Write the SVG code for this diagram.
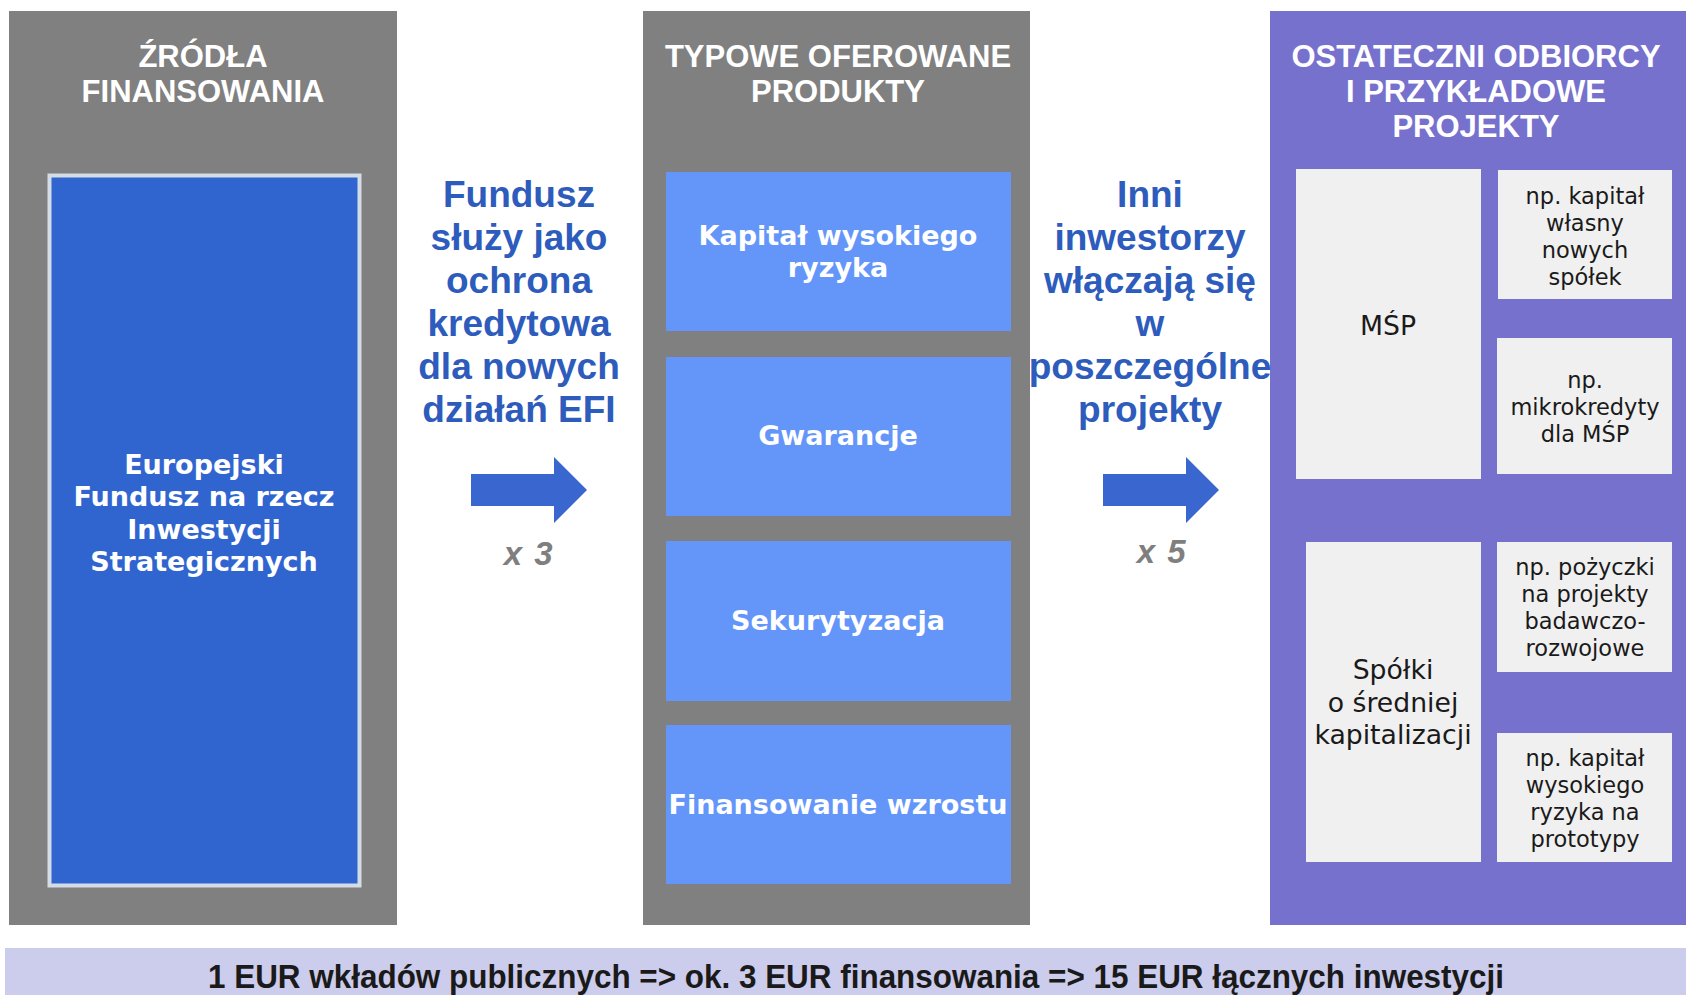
<svg xmlns="http://www.w3.org/2000/svg" width="1686" height="995" viewBox="0 0 1686 995">
<style>
.panel{fill:#808080}
.panelR{fill:#7671cd}
.hdr{font-family:"Liberation Sans",Arial,sans-serif;font-weight:bold;font-size:31px;fill:#ffffff;text-anchor:middle}
.prod{fill:#6496fa}
.ptxt{font-family:"DejaVu Sans",Verdana,sans-serif;font-weight:bold;font-size:27px;fill:#ffffff;text-anchor:middle}
.blue{font-family:"Liberation Sans",Arial,sans-serif;font-weight:bold;font-size:37px;fill:#2d5cbc;text-anchor:middle}
.mult{font-family:"Liberation Sans",Arial,sans-serif;font-weight:bold;font-style:italic;font-size:33px;letter-spacing:1.5px;fill:#7f7f7f;text-anchor:middle}
.lbox{fill:#f0f0f0}
.ltxt{font-family:"DejaVu Sans",Verdana,sans-serif;font-size:22.5px;fill:#1a1a1a;text-anchor:middle}
.ltxtB{font-family:"DejaVu Sans",Verdana,sans-serif;font-size:26.7px;fill:#1a1a1a;text-anchor:middle}
.arrow{fill:#3a67cf}
</style>
<rect width="1686" height="995" fill="#ffffff"/>

<g id="panel-sources">
<rect class="panel" x="9" y="11" width="388" height="914"/>
<text class="hdr" x="203" y="67">ŹRÓDŁA</text>
<text class="hdr" x="203" y="102">FINANSOWANIA</text>
</g>
<g id="node-efsi">
<rect x="49.5" y="175.5" width="310" height="710" fill="#3065d0" stroke="#d4dce6" stroke-width="4"/>
<text class="ptxt" x="204" y="474">Europejski</text>
<text class="ptxt" x="204" y="506">Fundusz na rzecz</text>
<text class="ptxt" x="204" y="539">Inwestycji</text>
<text class="ptxt" x="204" y="571">Strategicznych</text>
</g>

<g id="panel-products">
<rect class="panel" x="643" y="11" width="387" height="914"/>
<text class="hdr" x="838" y="67">TYPOWE OFEROWANE</text>
<text class="hdr" x="838" y="102">PRODUKTY</text>
</g>
<g id="node-kapital">
<rect class="prod" x="666" y="172" width="345" height="159"/>
<text class="ptxt" x="838" y="245">Kapitał wysokiego</text>
<text class="ptxt" x="838" y="277">ryzyka</text>
</g>
<g id="node-gwarancje">
<rect class="prod" x="666" y="357" width="345" height="159"/>
<text class="ptxt" x="838" y="445">Gwarancje</text>
</g>
<g id="node-sekurytyzacja">
<rect class="prod" x="666" y="541" width="345" height="160"/>
<text class="ptxt" x="838" y="630">Sekurytyzacja</text>
</g>
<g id="node-wzrost">
<rect class="prod" x="666" y="725" width="345" height="159"/>
<text class="ptxt" x="838" y="814">Finansowanie wzrostu</text>
</g>

<g id="panel-recipients">
<rect class="panelR" x="1270" y="11" width="416" height="914"/>
<text class="hdr" x="1476" y="67">OSTATECZNI ODBIORCY</text>
<text class="hdr" x="1476" y="102">I PRZYKŁADOWE</text>
<text class="hdr" x="1476" y="137">PROJEKTY</text>
</g>
<g id="node-msp">
<rect class="lbox" x="1296" y="169" width="185" height="310"/>
<text class="ltxtB" x="1388" y="335">MŚP</text>
</g>
<g id="node-kapital-wlasny">
<rect class="lbox" x="1498" y="170" width="174" height="129"/>
<text class="ltxt" x="1585" y="204">np. kapitał</text>
<text class="ltxt" x="1585" y="231">własny</text>
<text class="ltxt" x="1585" y="258">nowych</text>
<text class="ltxt" x="1585" y="285">spółek</text>
</g>
<g id="node-mikrokredyty">
<rect class="lbox" x="1497" y="338" width="175" height="136"/>
<text class="ltxt" x="1585" y="388">np.</text>
<text class="ltxt" x="1585" y="415">mikrokredyty</text>
<text class="ltxt" x="1585" y="442">dla MŚP</text>
</g>
<g id="node-midcap">
<rect class="lbox" x="1306" y="542" width="175" height="320"/>
<text class="ltxtB" x="1393" y="679">Spółki</text>
<text class="ltxtB" x="1393" y="712">o średniej</text>
<text class="ltxtB" x="1393" y="744">kapitalizacji</text>
</g>
<g id="node-pozyczki">
<rect class="lbox" x="1497" y="542" width="175" height="130"/>
<text class="ltxt" x="1585" y="575">np. pożyczki</text>
<text class="ltxt" x="1585" y="602">na projekty</text>
<text class="ltxt" x="1585" y="629">badawczo-</text>
<text class="ltxt" x="1585" y="656">rozwojowe</text>
</g>
<g id="node-prototypy">
<rect class="lbox" x="1497" y="733" width="175" height="129"/>
<text class="ltxt" x="1585" y="766">np. kapitał</text>
<text class="ltxt" x="1585" y="793">wysokiego</text>
<text class="ltxt" x="1585" y="820">ryzyka na</text>
<text class="ltxt" x="1585" y="847">prototypy</text>
</g>

<g id="connectors">
<g id="arrow-1">
<polygon class="arrow" points="471,474 554,474 554,457 587,490 554,523 554,506 471,506"/>
<text class="blue" x="519" y="207">Fundusz</text>
<text class="blue" x="519" y="250">służy jako</text>
<text class="blue" x="519" y="293">ochrona</text>
<text class="blue" x="519" y="336">kredytowa</text>
<text class="blue" x="519" y="379">dla nowych</text>
<text class="blue" x="519" y="422">działań EFI</text>
<text class="mult" x="529" y="565">x 3</text>
</g>
<g id="arrow-2">
<polygon class="arrow" points="1103,474 1186,474 1186,457 1219,490 1186,523 1186,506 1103,506"/>
<text class="blue" x="1150" y="207">Inni</text>
<text class="blue" x="1150" y="250">inwestorzy</text>
<text class="blue" x="1150" y="293">włączają się</text>
<text class="blue" x="1150" y="336">w</text>
<text class="blue" x="1150" y="379">poszczególne</text>
<text class="blue" x="1150" y="422">projekty</text>
<text class="mult" x="1162" y="563">x 5</text>
</g>
</g>

<g id="summary-bar">
<rect x="5" y="948" width="1681" height="47" fill="#cccced"/>
<text x="856" y="988" font-family="'Liberation Sans',Arial,sans-serif" font-weight="bold" font-size="33" fill="#1a1a1a" text-anchor="middle" textLength="1296" lengthAdjust="spacingAndGlyphs">1 EUR wkładów publicznych =&gt; ok. 3 EUR finansowania =&gt; 15 EUR łącznych inwestycji</text>
</g>
</svg>
